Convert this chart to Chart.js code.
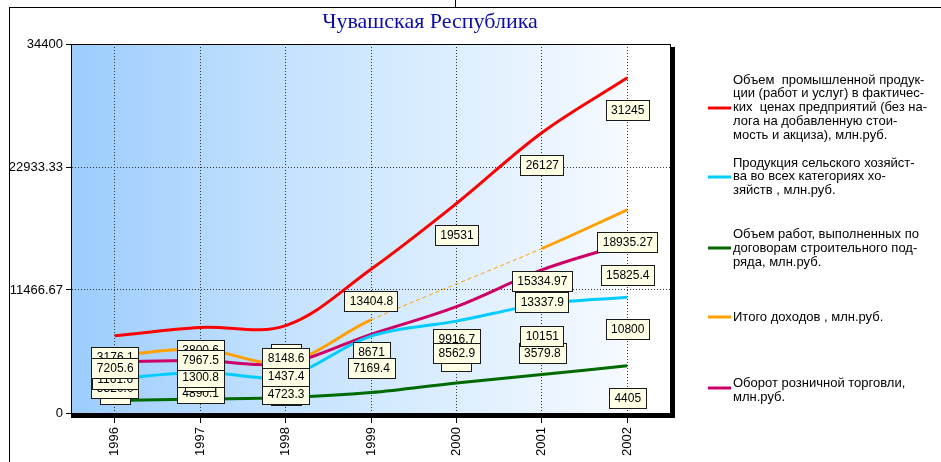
<!DOCTYPE html>
<html><head><meta charset="utf-8">
<script src="https://cdn.jsdelivr.net/npm/chart.js@4/dist/chart.umd.min.js"></script>
<style>html,body{margin:0;padding:0;background:#fff;overflow:hidden}</style>
</head><body>
<canvas id="c" width="941" height="462" style="display:block;width:941px;height:462px"></canvas>
<script>
// ---- data ----
const years = ['1996','1997','1998','1999','2000','2001','2002'];
const industry   = [7205.6, 7967.5, 8148.6, 13404.8, 19531, 26127, 31245];
const agriculture= [3176.1, 3800.6, 3450, 7169.4, 8562.9, 10151, 10800];
const construct  = [1161.6, 1300.8, 1437.4, 1900, 2800, 3579.8, 4405];
const income     = [5320.0, 5950, 4723.3, 8671, null, 15334.97, 18935.27];
const retail     = [4750, 4890.1, 4650, 7336, 9916.7, 13337.9, 15825.4];

const industryLabels    = ['7205.6','7967.5','8148.6','13404.8','19531','26127','31245'];
const agricultureLabels = ['3176.1','3800.6','','7169.4','8562.9','10151','10800'];
const constructLabels   = ['1161.6','1300.8','1437.4',null,'','3579.8','4405'];
const incomeLabels      = ['5320.0','','4723.3','8671',null,'15334.97','18935.27'];
const retailLabels      = ['','4890.1','','','9916.7','13337.9','15825.4'];

const yTicks = [0, 11466.67, 22933.33, 34400];
const yTickLabels = ['0','11466.67','22933.33','34400'];

const titleText = 'Чувашская Республика';
const industryName = ['Объем  промышленной продук-','ции (работ и услуг) в фактичес-','ких  ценах предприятий (без на-','лога на добавленную стои-','мость и акциза), млн.руб.'];
const agricultureName = ['Продукция сельского хозяйст-','ва во всех категориях хо-','зяйств , млн.руб.'];
const constructName = ['Объем работ, выполненных по','договорам строительного под-','ряда, млн.руб.'];
const incomeName = ['Итого доходов , млн.руб.'];
const retailName = ['Оборот розничной торговли,','млн.руб.'];

// ---- chart ----
Chart.defaults.font.family = "'Liberation Sans', Arial, sans-serif";
Chart.defaults.font.size = 12;
Chart.defaults.color = '#000';

const skipped = (ctx, v) => (ctx.p0.skip || ctx.p1.skip) ? v : undefined;

const series = [
  {name: industryName, data: industry, labels: industryLabels, color: '#ff0000', legendY: 80, markerLine: 2},
  {name: agricultureName, data: agriculture, labels: agricultureLabels, color: '#00ccff', legendY: 163, markerLine: 1},
  {name: constructName, data: construct, labels: constructLabels, color: '#006a00', legendY: 234.5, markerLine: 1},
  {name: incomeName, data: income, labels: incomeLabels, color: '#ffa000', legendY: 317, markerLine: 0},
  {name: retailName, data: retail, labels: retailLabels, color: '#cc0066', legendY: 383.5, markerLine: 0.3}
];

const bgPlugin = {
  id: 'bg',
  beforeDraw(chart) {
    const {ctx, chartArea: a} = chart;
    ctx.save();
    ctx.fillStyle = '#fff';
    ctx.fillRect(0, 0, chart.width, chart.height);
    const g = ctx.createLinearGradient(a.left, 0, a.right, 0);
    g.addColorStop(0, '#9ccdfd');
    g.addColorStop(0.35, '#c3e1fe');
    g.addColorStop(0.65, '#deeffe');
    g.addColorStop(0.84, '#eef6ff');
    g.addColorStop(0.922, '#f6faff');
    g.addColorStop(0.925, '#ffffff');
    g.addColorStop(1, '#ffffff');
    ctx.fillStyle = g;
    ctx.fillRect(a.left, a.top, a.right - a.left, a.bottom - a.top);
    ctx.restore();
  }
};

const framePlugin = {
  id: 'frame',
  afterDatasetsDraw(chart) {
    const {ctx, chartArea: a} = chart;
    ctx.save();
    ctx.strokeStyle = '#000';
    ctx.lineWidth = 1;
    ctx.beginPath();
    ctx.moveTo(a.left, a.top + 0.5); ctx.lineTo(a.right, a.top + 0.5);
    ctx.moveTo(a.left - 0.5, a.top); ctx.lineTo(a.left - 0.5, a.bottom);
    ctx.moveTo(a.right + 0.5, a.top); ctx.lineTo(a.right + 0.5, a.bottom);
    ctx.stroke();
    ctx.fillStyle = '#000';
    ctx.fillRect(a.right + 1, a.top + 3, 4, a.bottom - a.top + 2);
    ctx.fillRect(a.left - 1, a.bottom, a.right - a.left + 6, 5);
    // outer object frame
    ctx.beginPath();
    ctx.moveTo(9, 7.5); ctx.lineTo(chart.width, 7.5);
    ctx.moveTo(9.5, 7); ctx.lineTo(9.5, chart.height);
    ctx.moveTo(455.5, 0); ctx.lineTo(455.5, 7);
    ctx.stroke();
    ctx.restore();
  }
};

const labelPlugin = {
  id: 'vlabels',
  afterDatasetsDraw(chart) {
    const {ctx, chartArea: a} = chart;
    const order = [4, 3, 2, 1, 0];
    ctx.save();
    ctx.font = "12px 'Liberation Sans', Arial, sans-serif";
    ctx.textAlign = 'center';
    ctx.textBaseline = 'middle';
    for (const di of order) {
      const meta = chart.getDatasetMeta(di);
      const labs = series[di].labels;
      meta.data.forEach((pt, j) => {
        const t = labs[j];
        if (t === null || t === undefined || pt.skip) return;
        const w = Math.max(ctx.measureText(t).width, 20) + 10;
        const h = 20;
        let cy = pt.y + 32;
        if (cy + h / 2 > a.bottom) cy = pt.y - 22;
        const x0 = Math.round(pt.x - w / 2) + 0.5, y0 = Math.round(cy - h / 2) + 0.5;
        ctx.fillStyle = '#ffffe6';
        ctx.fillRect(x0, y0, Math.round(w), h);
        ctx.strokeStyle = '#1a1a1a';
        ctx.lineWidth = 1;
        ctx.strokeRect(x0, y0, Math.round(w), h);
        ctx.fillStyle = '#000';
        ctx.fillText(t, pt.x + 0.5, y0 + h / 2 + 0.5);
      });
    }
    ctx.restore();
  }
};

const legendPlugin = {
  id: 'sidelegend',
  afterDraw(chart) {
    const {ctx} = chart;
    ctx.save();
    // title
    ctx.font = "22px 'Liberation Serif', 'Times New Roman', serif";
    ctx.fillStyle = '#0c0ca8';
    ctx.textAlign = 'center';
    ctx.textBaseline = 'middle';
    ctx.fillText(titleText, 430, 22);
    // legend
    ctx.font = "13px 'Liberation Sans', Arial, sans-serif";
    ctx.textAlign = 'left';
    const lh = 13.9;
    series.forEach(s => {
      s.name.forEach((line, k) => {
        ctx.fillStyle = '#000';
        ctx.fillText(line, 733, s.legendY + k * lh);
      });
      const my = Math.round(s.legendY + s.markerLine * lh);
      ctx.strokeStyle = s.color;
      ctx.lineWidth = 3;
      ctx.beginPath();
      ctx.moveTo(708, my); ctx.lineTo(731, my);
      ctx.stroke();
    });
    ctx.restore();
  }
};

new Chart(document.getElementById('c'), {
  type: 'line',
  data: {
    labels: years,
    datasets: series.map(s => ({
      data: s.data,
      borderColor: s.color,
      backgroundColor: s.color,
      borderWidth: 3,
      pointRadius: 0,
      pointHoverRadius: 0,
      tension: 0.35,
      spanGaps: true,
      fill: false,
      segment: {
        borderDash: ctx => skipped(ctx, [4, 3]),
        borderWidth: ctx => skipped(ctx, 1)
      }
    }))
  },
  options: {
    responsive: false,
    animation: false,
    devicePixelRatio: 1,
    layout: {padding: {left: 0, right: 271, top: 44, bottom: 0}},
    plugins: {legend: {display: false}, title: {display: false}, tooltip: {enabled: false}},
    scales: {
      x: {
        type: 'category',
        offset: true,
        afterFit(scale) { scale.height = 49; },
        grid: {color: '#333', lineWidth: 1, tickLength: 10, tickColor: '#000', drawTicks: true},
        border: {display: false, dash: [1, 2]},
        ticks: {autoSkip: false, minRotation: 90, maxRotation: 90, padding: 4, color: '#000',
                font: {size: 13}}
      },
      y: {
        min: 0, max: 34400,
        afterFit(scale) { scale.width = 72; },
        afterBuildTicks(scale) { scale.ticks = yTicks.map(v => ({value: v})); },
        grid: {
          color: c => (c.index === 1 || c.index === 2) ? '#333' : 'rgba(0,0,0,0)',
          tickColor: '#000', tickLength: 6, lineWidth: 1
        },
        border: {display: false, dash: [1, 2]},
        ticks: {padding: 3, color: '#000', font: {size: 13},
                callback: (v, i) => yTickLabels[i]}
      }
    }
  },
  plugins: [bgPlugin, framePlugin, labelPlugin, legendPlugin]
});
</script>
</body></html>
